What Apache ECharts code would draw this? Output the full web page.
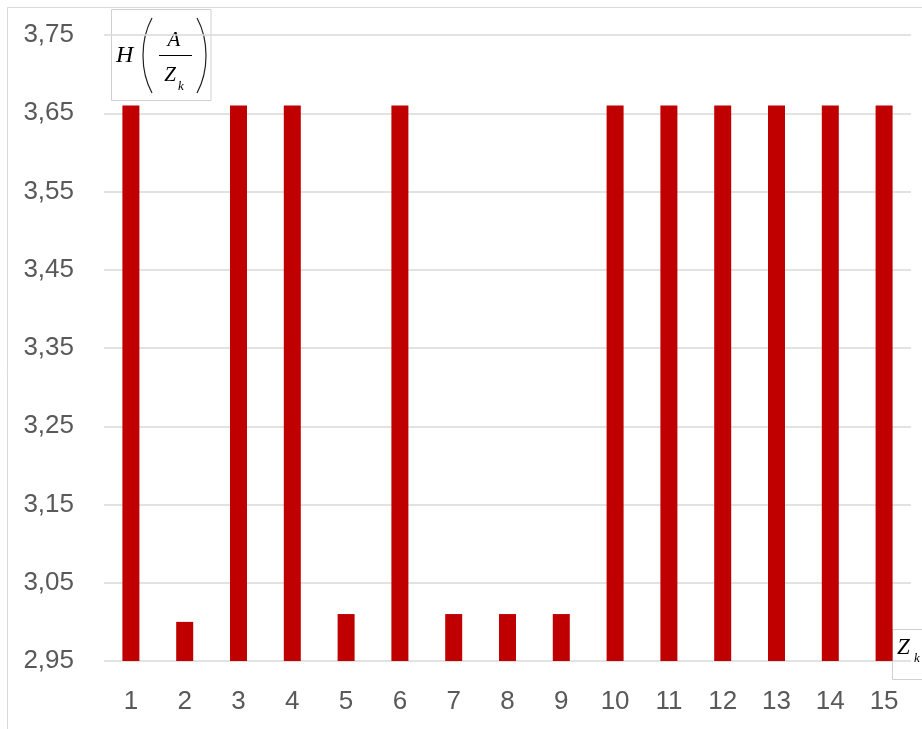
<!DOCTYPE html>
<html>
<head>
<meta charset="utf-8">
<script src="https://cdn.jsdelivr.net/npm/echarts@6/dist/echarts.min.js"></script>
<style>
html,body{margin:0;padding:0;background:#fff;}
#chart{width:922px;height:729px;}
</style>
</head>
<body>
<div id="chart"></div>
<script>
const categories = ['1','2','3','4','5','6','7','8','9','10','11','12','13','14','15'];
const values = [3.66, 3.00, 3.66, 3.66, 3.01, 3.66, 3.01, 3.01, 3.01, 3.66, 3.66, 3.66, 3.66, 3.66, 3.66];
const yMin = 2.95, yMax = 3.75, yStep = 0.1;

const chart = echarts.init(document.getElementById('chart'), null, {renderer: 'canvas'});
const labelFont = 'Liberation Sans';
const serif = 'Liberation Serif';
chart.setOption({
  animation: false,
  backgroundColor: '#ffffff',
  grid: {left: 104, right: 11, top: 35, bottom: 68, containLabel: false},
  xAxis: {
    type: 'category',
    data: categories,
    axisLine: {show: false},
    axisTick: {show: false},
    axisLabel: {color: '#595959', fontSize: 26, fontFamily: labelFont, margin: 28}
  },
  yAxis: {
    type: 'value',
    min: yMin, max: yMax, interval: yStep,
    axisLine: {show: false},
    axisTick: {show: false},
    splitLine: {lineStyle: {color: '#d9d9d9', width: 1.5}},
    axisLabel: {
      color: '#595959', fontSize: 26, fontFamily: labelFont, margin: 30,
      formatter: v => v.toFixed(2).replace('.', ',')
    }
  },
  series: [{
    type: 'bar',
    data: values,
    barWidth: 17,
    itemStyle: {color: '#c00000'}
  }],
  graphic: [
    {type: 'rect', z: 0, silent: true, shape: {x: 7.5, y: 7.5, width: 1000, height: 1000},
     style: {fill: 'none', stroke: '#d9d9d9', lineWidth: 1}},
    {type: 'group', z: 100, children: [
      {type: 'rect', shape: {x: 111.5, y: 9.5, width: 99.5, height: 91},
       style: {fill: '#ffffff', stroke: '#d0d0d0', lineWidth: 1}},
      {type: 'text', style: {x: 116, y: 56, text: 'H', font: 'italic 24px ' + serif, fill: '#000', verticalAlign: 'middle'}},
      {type: 'bezierCurve', shape: {x1: 152, y1: 18, x2: 152, y2: 93, cpx1: 140, cpy1: 40, cpx2: 140, cpy2: 71},
       style: {stroke: '#222', lineWidth: 1.2, fill: 'none'}},
      {type: 'bezierCurve', shape: {x1: 197, y1: 18, x2: 197, y2: 93, cpx1: 209, cpy1: 40, cpx2: 209, cpy2: 71},
       style: {stroke: '#222', lineWidth: 1.2, fill: 'none'}},
      {type: 'text', style: {x: 174, y: 40, text: 'A', font: 'italic 21px ' + serif, fill: '#000', align: 'center', verticalAlign: 'middle'}},
      {type: 'line', shape: {x1: 159, y1: 55.5, x2: 192, y2: 55.5}, style: {stroke: '#000', lineWidth: 1}},
      {type: 'text', style: {x: 170, y: 75.5, text: 'Z', font: 'italic 21px ' + serif, fill: '#000', align: 'center', verticalAlign: 'middle'}},
      {type: 'text', style: {x: 178, y: 87, text: 'k', font: 'italic 13px ' + serif, fill: '#000', verticalAlign: 'middle'}}
    ]},
    {type: 'group', z: 100, children: [
      {type: 'rect', shape: {x: 892.5, y: 629.5, width: 40, height: 50},
       style: {fill: '#ffffff', stroke: '#d0d0d0', lineWidth: 1}},
      {type: 'text', style: {x: 897, y: 648, text: 'Z', font: 'italic 23px ' + serif, fill: '#000', verticalAlign: 'middle'}},
      {type: 'text', style: {x: 914, y: 659, text: 'k', font: 'italic 13px ' + serif, fill: '#000', verticalAlign: 'middle'}}
    ]}
  ]
});
</script>
</body>
</html>
